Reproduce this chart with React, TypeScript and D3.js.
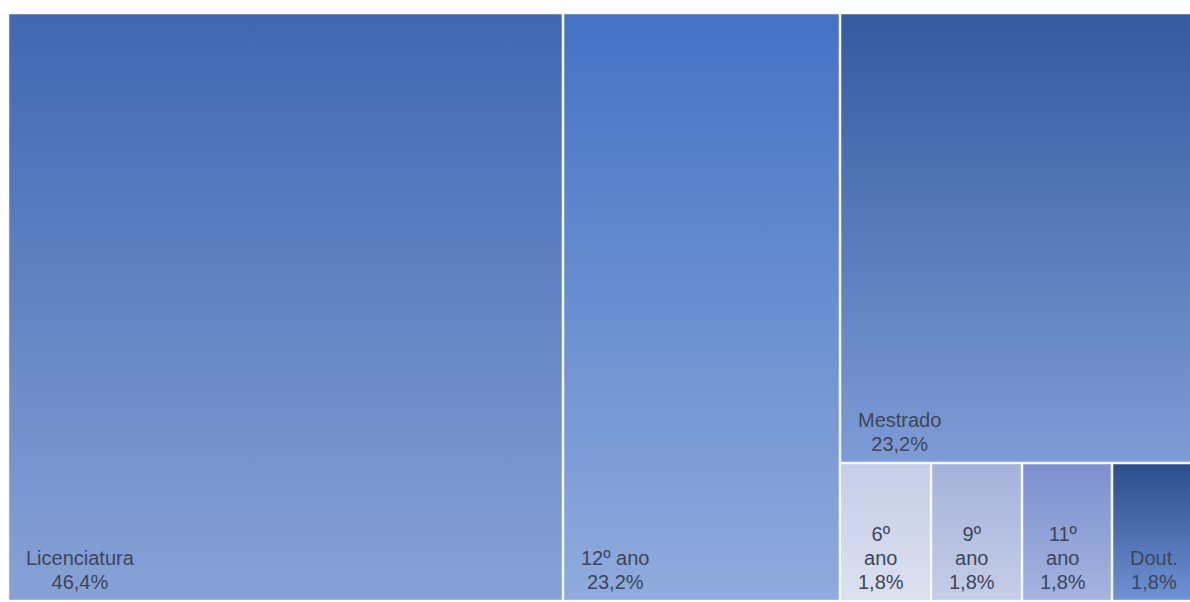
import React, { useMemo } from "react";
import * as d3 from "d3";

// ---- data ----
const categories = ["Licenciatura", "12º ano", "Mestrado", "6º ano", "9º ano", "11º ano", "Dout."];
const counts = [26, 13, 13, 1, 1, 1, 1];
const percentLabels = ["46,4%", "23,2%", "23,2%", "1,8%", "1,8%", "1,8%", "1,8%"];
// grouping used by the chart's layout (top-level split, then Mestrado over the small ones)
const groupOf = ["top", "top", "rest", "small", "small", "small", "small"];

// ---- styles ----
const gradTop = ["#3f67b2", "#4472c4", "#345a9f", "#c6cde6", "#a4b2da", "#7c90ce", "#2c4c8c"];
const gradBottom = ["#87a2d6", "#90abdd", "#7e9cd6", "#dce1f0", "#c5cee8", "#a4b3df", "#7091d5"];

const W = 1190;
const H = 602;
const X0 = 9, Y0 = 14, X1 = 1202, Y1 = 600;
const FONT = "20px 'Liberation Sans', Arial, sans-serif";
const PAD = 17;

let _ctx: CanvasRenderingContext2D | null = null;
function measure(t: string): number {
  if (!_ctx) {
    const c = document.createElement("canvas");
    _ctx = c.getContext("2d");
  }
  if (!_ctx) return t.length * 10;
  _ctx.font = FONT;
  return _ctx.measureText(t).width;
}

function wrap(text: string, maxW: number): string[] {
  const words = text.split(" ");
  const lines: string[] = [];
  let cur = "";
  for (const w of words) {
    const test = cur ? cur + " " + w : w;
    if (cur && measure(test) > maxW) {
      lines.push(cur);
      cur = w;
    } else cur = test;
  }
  if (cur) lines.push(cur);
  return lines;
}

function pick(g: string) {
  return categories
    .map((c, i) => ({ name: c, idx: i, value: counts[i] }))
    .filter((d) => groupOf[d.idx] === g);
}

export default function App() {
  const leaves = useMemo(() => {
    const data = {
      name: "root",
      children: [...pick("top"), { name: "rest", children: [...pick("rest"), { name: "small", children: pick("small") }] }],
    };
    const root = d3.hierarchy<any>(data).sum((d: any) => d.value || 0);
    d3.treemap<any>()
      .tile(d3.treemapSliceDice)
      .size([X1 - X0, Y1 - Y0])
      .paddingInner(2)
      .round(true)(root);
    return root.leaves() as any[];
  }, []);

  return (
    <svg
      width={W}
      height={H}
      style={{ position: "absolute", left: 0, top: 0, background: "#ffffff" }}
    >
      <defs>
        {categories.map((c, i) => (
          <linearGradient key={i} id={`g${i}`} x1="0" y1="0" x2="0" y2="1">
            <stop offset="0" stopColor={gradTop[i]} />
            <stop offset="1" stopColor={gradBottom[i]} />
          </linearGradient>
        ))}
      </defs>
      <g transform={`translate(${X0},${Y0})`}>
        {leaves.map((n) => {
          const i = n.data.idx;
          const w = n.x1 - n.x0;
          const lines = [...wrap(categories[i], w - PAD * 2 - 12), percentLabels[i]];
          const maxW = Math.max(...lines.map(measure));
          const cx = n.x0 + PAD + maxW / 2;
          const lh = 24;
          const lastY = n.y1 - 11;
          return (
            <g key={i}>
              <rect
                x={n.x0}
                y={n.y0}
                width={w}
                height={n.y1 - n.y0}
                fill={`url(#g${i})`}
                stroke="#dfe8f5"
                strokeWidth={0.6}
              />
              <text
                fontFamily="'Liberation Sans', Arial, sans-serif"
                fontSize={20}
                fill="#3d4659"
                textAnchor="middle"
              >
                {lines.map((l, k) => (
                  <tspan key={k} x={cx} y={lastY - (lines.length - 1 - k) * lh}>
                    {l}
                  </tspan>
                ))}
              </text>
            </g>
          );
        })}
      </g>
    </svg>
  );
}
